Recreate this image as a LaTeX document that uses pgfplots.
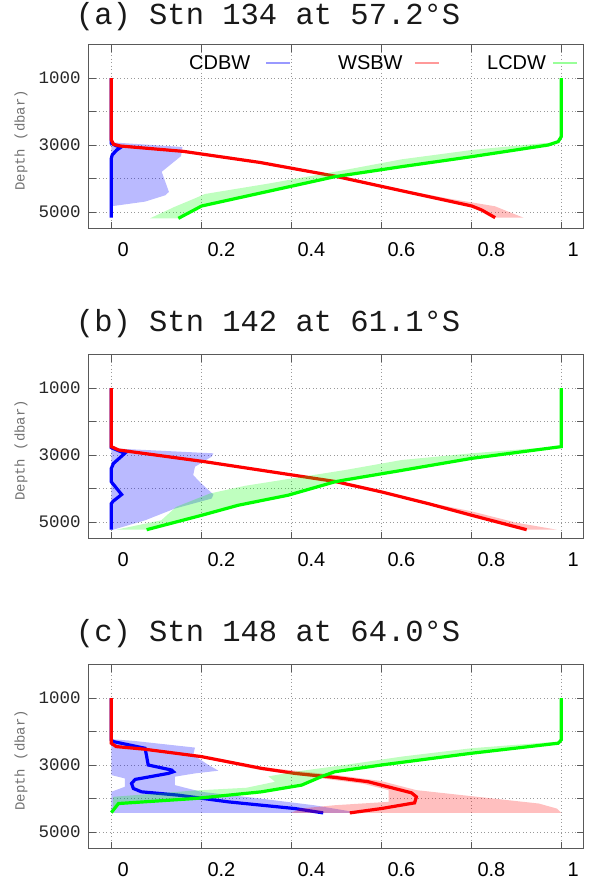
\documentclass[border=0pt]{standalone}
\usepackage{fontspec}
\setmainfont{Liberation Sans}
\newfontfamily\mono{Liberation Mono}
\usepackage{pgfplots}
\pgfplotsset{compat=1.18}

\newcommand\xtfont{\fontsize{20bp}{24bp}\selectfont}
\newcommand\ytfont{\mono\fontsize{17.5bp}{20bp}\selectfont}
\newcommand\ylfont{\mono\fontsize{14bp}{16bp}\selectfont}
\newcommand\ttfont{\mono\fontsize{30.5bp}{36bp}\selectfont}

\pgfplotsset{
  panel/.style={
    scale only axis, width=495bp, height=184.25bp,
    anchor=north west,
    xmin=-0.05, xmax=1.05, ymin=0, ymax=5500, y dir=reverse,
    xtick={0,0.2,0.4,0.6,0.8,1}, xticklabels={0,0.2,0.4,0.6,0.8,1},
    ytick={1000,2000,3000,4000,5000}, yticklabels={1000,,3000,,5000},
    grid=major,
    major grid style={dash pattern=on 0.9bp off 2.6bp, black!40, line width=0.8bp},
    axis line style={black!65, line width=1bp},
    tick style={black!65, line width=0.8bp},
    tick align=inside, major tick length=7bp, tick pos=both,
    xticklabel style={font=\xtfont, anchor=north west, inner sep=0pt, xshift=6bp, yshift=-14bp},
    yticklabel style={font=\ytfont, anchor=east, inner sep=0pt, xshift=-8bp, text=black!85},
    ylabel={Depth (dbar)},
    ylabel style={font=\ylfont, text=black!55, at={(axis description cs:-0.137,0.48)}, anchor=center},
    title style={font=\ttfont, at={(axis description cs:0,1)}, anchor=base west, inner sep=0pt, xshift=-13bp, text=black!90},
    clip=false,
  },
  bsh/.style={draw=none, fill=blue, fill opacity=0.27, forget plot},
  rsh/.style={draw=none, fill=red, fill opacity=0.25, forget plot},
  gsh/.style={draw=none, fill=green, fill opacity=0.25, forget plot},
  bln/.style={blue, line width=3.2bp, forget plot},
  rln/.style={red, line width=3.2bp, forget plot},
  gln/.style={green, line width=3.2bp, forget plot},
}

\begin{document}
\begin{tikzpicture}
\useasboundingbox (0,0) rectangle (589bp,-880bp);

% ---------------- (a) ----------------
\begin{axis}[panel, at={(88.8bp,-44.5bp)},
  title={(a) Stn 134 at 57.2°S}, title style={yshift=14bp},
  legend style={at={(axis description cs:0.2024,0.94)}, anchor=north west,
    draw=none, fill=none, inner sep=0pt, column sep=0pt, legend columns=3,
    font=\xtfont, nodes={inner sep=0pt}},
  legend plot pos=right,
  legend image code/.code={\draw[#1] (13bp,0bp) -- (37bp,0bp);
    \pgfpathmoveto{\pgfpointorigin}\pgfpathlineto{\pgfqpoint{85bp}{0bp}}\pgfusepath{discard}},
]
\addplot[bsh] coordinates {(0,2920) (0.158,3060) (0.155,3330) (0.112,3800) (0.128,4400) (0.12,4500) (0.075,4690) (0.005,4820) (0,4820)} -- cycle;
\addplot[bln] coordinates {(0,1000) (0,2950) (0.02,3080) (0.012,3150) (0.002,3300) (0,3400) (0,5170)};
\addplot[rsh] coordinates {(0.005,2980) (0.02,3030) (0.16,3190) (0.33,3520) (0.497,3930) (0.65,4380) (0.801,4821) (0.823,4940) (0.853,5169) (0.916,5169) (0.882,4990) (0.853,4830) (0.75,4600) (0.66,4370) (0.50,3910) (0.33,3500) (0.16,3170) (0.03,3010)} -- cycle;
\addplot[rln] coordinates {(0,1000) (0,2850) (0.005,2980) (0.02,3030) (0.16,3190) (0.33,3520) (0.497,3930) (0.65,4380) (0.801,4821) (0.823,4940) (0.853,5169)};
\addplot[gsh] coordinates {(0.993,2920) (0.971,3000) (0.801,3348) (0.645,3647) (0.497,3945) (0.2007,4821) (0.149,5190) (0.086,5190) (0.14,4850) (0.186,4592) (0.208,4463) (0.35,4150) (0.519,3746) (0.645,3428) (0.801,3149) (0.956,2950)} -- cycle;
\addplot[gln] coordinates {(1,1000) (1,2750) (0.993,2900) (0.971,3000) (0.801,3348) (0.645,3647) (0.497,3945) (0.2007,4821) (0.149,5190)};
\addlegendimage{blue!40, line width=2bp}
\addlegendentry{\makebox[64bp][l]{CDBW}}
\addlegendimage{red!40, line width=2bp}
\addlegendentry{\makebox[64bp][l]{WSBW}}
\addlegendimage{green!40, line width=2bp}
\addlegendentry{\makebox[53bp][l]{LCDW}}
\end{axis}

% ---------------- (b) ----------------
\begin{axis}[panel, at={(88.8bp,-354.5bp)},
  title={(b) Stn 142 at 61.1°S}, title style={yshift=17bp}]
\addplot[bsh] coordinates {(0,2800) (0.227,2950) (0.223,3050) (0.186,3350) (0.182,3600) (0.2,3850) (0.227,4180) (0.223,4300) (0.141,4600) (0.075,4950) (0.004,5230) (0,5230)} -- cycle;
\addplot[bln] coordinates {(0,1000) (0,2780) (0.03,2950) (0.005,3250) (0,3400) (0,3800) (0.023,4180) (0.004,4380) (0,4450) (0,5230)};
\addplot[rsh] coordinates {(0.016,2850) (0.208,3200) (0.497,3790) (0.6,4100) (0.704,4450) (0.801,4800) (0.923,5230) (0.99,5230) (0.9,5020) (0.80,4680) (0.70,4410) (0.60,4080) (0.497,3770) (0.21,3180) (0.02,2840)} -- cycle;
\addplot[rln] coordinates {(0,1000) (0,2750) (0.016,2850) (0.208,3200) (0.497,3790) (0.6,4100) (0.704,4450) (0.801,4800) (0.923,5230)};
\addplot[gsh] coordinates {(1,2750) (0.801,3100) (0.645,3460) (0.519,3745) (0.497,3800) (0.393,4200) (0.282,4500) (0.2007,4800) (0.0785,5230) (0.011,5230) (0.111,4950) (0.144,4550) (0.219,4150) (0.297,3920) (0.519,3450) (0.645,3150) (0.801,2950) (0.94,2800)} -- cycle;
\addplot[gln] coordinates {(1,1000) (1,2750) (0.801,3100) (0.645,3460) (0.519,3745) (0.497,3800) (0.393,4200) (0.282,4500) (0.2007,4800) (0.0785,5230)};
\end{axis}

% ---------------- (c) ----------------
\begin{axis}[panel, at={(88.8bp,-664.5bp)},
  title={(c) Stn 148 at 64.0°S}, title style={yshift=17bp}]
\addplot[bsh] coordinates {(0,2230) (0.05,2280) (0.186,2480) (0.182,2700) (0.216,3000) (0.238,3170) (0.186,3250) (0.141,3350) (0.141,3600) (0.2,3800) (0.33,4000) (0.45,4200) (0.53,4380) (0.53,4430) (0,4430) (0,3800) (0.03,3650) (0.03,3400) (0,3300)} -- cycle;
\addplot[bln] coordinates {(0,1000) (0,2250) (0.004,2300) (0.075,2500) (0.078,2700) (0.082,3000) (0.134,3150) (0.138,3200) (0.127,3250) (0.053,3430) (0.045,3550) (0.049,3700) (0.067,3800) (0.149,3900) (0.26,4100) (0.408,4300) (0.471,4430)};
\addplot[rsh] coordinates {(0,2330) (0.02,2430) (0.2,2720) (0.33,3060) (0.5,3300) (0.6,3480) (0.678,3750) (0.8,3930) (0.95,4150) (0.99,4300) (1.0,4430) (0.4,4430) (0.42,4300) (0.497,4200) (0.616,4100) (0.616,3750) (0.56,3560) (0.48,3420) (0.33,3150) (0.2,2790) (0.075,2560) (0,2420)} -- cycle;
\addplot[rln] coordinates {(0,1000) (0,2350) (0.011,2450) (0.075,2530) (0.2007,2750) (0.334,3100) (0.408,3250) (0.497,3370) (0.571,3500) (0.667,3830) (0.678,3950) (0.674,4130) (0.6,4300) (0.53,4430)};
\addplot[gsh] coordinates {(1,2260) (0.993,2350) (0.8,2650) (0.6,3000) (0.497,3200) (0.47,3330) (0.423,3600) (0.334,3800) (0.186,4000) (0.016,4150) (0.004,4250) (0.004,3950) (0.186,3760) (0.30,3680) (0.364,3500) (0.349,3340) (0.408,3200) (0.519,3000) (0.645,2750) (0.8,2500) (0.993,2300)} -- cycle;
\addplot[gln] coordinates {(1,1000) (1,2250) (0.993,2350) (0.8,2650) (0.6,3000) (0.497,3200) (0.47,3330) (0.423,3600) (0.334,3800) (0.186,4000) (0.016,4150) (0,4420)};
\end{axis}
\end{tikzpicture}
\end{document}
